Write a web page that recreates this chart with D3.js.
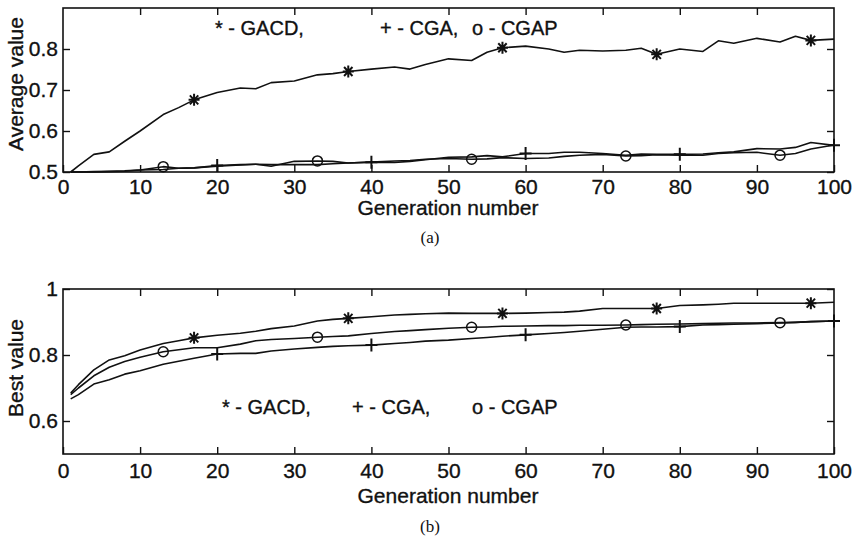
<!DOCTYPE html>
<html>
<head>
<meta charset="utf-8">
<script src="https://cdn.jsdelivr.net/npm/d3@7"></script>
<style>
  body { margin: 0; background: #fff; }
  svg text { font-family: "Liberation Sans", Arial, sans-serif; fill: #111; stroke: #111; stroke-width: 0.35px; }
  svg .cap { font-family: "Liberation Serif", "Times New Roman", serif; stroke: none; }
</style>
</head>
<body>
<script>
var gens = [1, 2, 4, 6, 8, 10, 13, 15, 17, 20, 23, 25, 27, 30, 33, 35, 37, 40, 43, 45, 47,
            50, 53, 55, 57, 60, 63, 65, 67, 70, 73, 75, 77, 80, 83, 85, 87, 90, 93, 95, 97, 100];

// (a) average value
var avgGACD = [0.500, 0.515, 0.543, 0.549, 0.575, 0.600, 0.640, 0.657, 0.676, 0.694, 0.705, 0.703, 0.718, 0.722,
               0.737, 0.740, 0.745, 0.751, 0.756, 0.751, 0.762, 0.776, 0.772, 0.792, 0.803, 0.807, 0.800, 0.792,
               0.797, 0.795, 0.797, 0.802, 0.787, 0.800, 0.794, 0.820, 0.814, 0.826, 0.817, 0.831, 0.821, 0.824];
var avgCGA  = [0.500, 0.500, 0.501, 0.502, 0.503, 0.505, 0.506, 0.509, 0.510, 0.516, 0.518, 0.519, 0.518, 0.518,
               0.518, 0.520, 0.522, 0.524, 0.523, 0.526, 0.530, 0.536, 0.537, 0.540, 0.537, 0.545, 0.545, 0.548,
               0.548, 0.545, 0.541, 0.544, 0.543, 0.543, 0.544, 0.547, 0.549, 0.557, 0.556, 0.560, 0.572, 0.565];
var avgCGAP = [0.500, 0.500, 0.500, 0.501, 0.502, 0.505, 0.513, 0.509, 0.510, 0.514, 0.517, 0.519, 0.514, 0.526,
               0.527, 0.526, 0.522, 0.524, 0.527, 0.528, 0.531, 0.533, 0.531, 0.532, 0.535, 0.533, 0.534, 0.538,
               0.541, 0.543, 0.539, 0.540, 0.542, 0.541, 0.541, 0.545, 0.547, 0.548, 0.541, 0.545, 0.556, 0.566];

// (b) best value
var bestGACD = [0.685, 0.710, 0.755, 0.785, 0.798, 0.815, 0.835, 0.843, 0.852, 0.860, 0.866, 0.872, 0.880, 0.888,
                0.903, 0.908, 0.911, 0.916, 0.921, 0.923, 0.925, 0.927, 0.926, 0.926, 0.926, 0.927, 0.929, 0.930,
                0.933, 0.941, 0.941, 0.941, 0.941, 0.950, 0.952, 0.954, 0.957, 0.957, 0.957, 0.957, 0.957, 0.960];
var bestCGA  = [0.667, 0.680, 0.712, 0.725, 0.742, 0.752, 0.772, 0.781, 0.790, 0.803, 0.805, 0.805, 0.812, 0.818,
                0.823, 0.826, 0.828, 0.830, 0.835, 0.838, 0.842, 0.845, 0.850, 0.853, 0.857, 0.861, 0.865, 0.868,
                0.872, 0.878, 0.884, 0.885, 0.885, 0.886, 0.891, 0.892, 0.893, 0.895, 0.897, 0.899, 0.901, 0.903];
var bestCGAP = [0.680, 0.700, 0.737, 0.763, 0.780, 0.793, 0.810, 0.816, 0.822, 0.822, 0.833, 0.843, 0.847, 0.850,
                0.854, 0.856, 0.858, 0.865, 0.871, 0.874, 0.877, 0.881, 0.884, 0.885, 0.887, 0.888, 0.889, 0.889,
                0.890, 0.890, 0.891, 0.892, 0.893, 0.894, 0.895, 0.896, 0.897, 0.897, 0.898, 0.899, 0.901, 0.903];

// which generations carry a marker
var markGACD = [17, 37, 57, 77, 97];
var markCGA  = [20, 40, 60, 80, 100];
var markCGAP = [13, 33, 53, 73, 93];

var xTicks = [0, 10, 20, 30, 40, 50, 60, 70, 80, 90, 100];
var avgTicks = [0.5, 0.6, 0.7, 0.8];
var avgTickLabels = ["0.5", "0.6", "0.7", "0.8"];
var bestTicks = [0.6, 0.8, 1];
var bestTickLabels = ["0.6", "0.8", "1"];
var legendLabels = ["* - GACD,", "+ - CGA,", "o - CGAP"];

var svg = d3.select("body").append("svg").attr("width", 862).attr("height", 539);

// marker shapes, MATLAB style
var shapes = {
  star:   "M-5.5,0H5.5M0,-6V6M-4.2,-4.5L4.2,4.5M-4.2,4.5L4.2,-4.5",
  plus:   "M-6,0H6M0,-6.5V6.5",
  circle: "M5,0A5,5 0 1,1 -5,0A5,5 0 1,1 5,0Z"
};

function drawPanel(p) {
  var x = d3.scaleLinear().domain([0, 100]).range([63, 834]);
  var y = d3.scaleLinear().domain(p.yDomain).range([p.bottom, p.top]);
  var g = svg.append("g");

  // the curves
  var line = d3.line().x(function(d, i) { return x(gens[i]); }).y(function(d) { return y(d); });
  p.series.forEach(function(s) {
    g.append("path").attr("d", line(s.values))
      .attr("fill", "none").attr("stroke", "#111").attr("stroke-width", 1.6)
      .attr("stroke-linejoin", "round");
    g.selectAll(null).data(s.marks).enter().append("path")
      .attr("d", shapes[s.shape])
      .attr("transform", function(m) { return "translate(" + x(m) + "," + y(s.values[gens.indexOf(m)]) + ")"; })
      .attr("fill", "none").attr("stroke", "#111").attr("stroke-width", s.shape == "circle" ? 1.5 : 2);
  });

  // inward ticks on all four sides
  var bottom = g.append("g").attr("transform", "translate(0," + p.bottom + ")")
    .call(d3.axisBottom(x).tickValues(xTicks).tickSize(-7).tickPadding(p.xPad).tickFormat(d3.format("d")));
  var left = g.append("g").attr("transform", "translate(63,0)")
    .call(d3.axisLeft(y).tickValues(p.yTicks).tickSize(-7).tickPadding(5)
      .tickFormat(function(d, i) { return p.yLabels[i]; }));
  g.append("g").attr("transform", "translate(0," + p.top + ")")
    .call(d3.axisTop(x).tickValues(xTicks.slice(1, -1)).tickSize(-7).tickFormat(""));
  g.append("g").attr("transform", "translate(834,0)")
    .call(d3.axisRight(y).tickValues(p.yTicks).tickSize(-7).tickFormat(""));
  g.selectAll(".domain").remove();
  g.selectAll(".tick line").attr("stroke", "#111").attr("stroke-width", 1.4);
  bottom.selectAll("text").attr("font-size", 21).attr("font-family", null);
  left.selectAll("text").attr("font-size", 21).attr("font-family", null);

  g.append("rect").attr("x", 63).attr("y", p.top).attr("width", 834 - 63).attr("height", p.bottom - p.top)
    .attr("fill", "none").attr("stroke", "#111").attr("stroke-width", 1.6);

  // labels
  g.append("text").attr("x", 448).attr("y", p.xTitleY).attr("text-anchor", "middle")
    .attr("font-size", 21).text("Generation number");
  g.append("text").attr("transform", "translate(23," + p.yTitleMid + ")rotate(-90)")
    .attr("text-anchor", "middle").attr("font-size", 21).text(p.yTitle);
  g.append("text").attr("class", "cap").attr("x", 430).attr("y", p.capY)
    .attr("text-anchor", "middle").attr("font-size", 17).text(p.caption);

  g.selectAll(null).data(legendLabels).enter().append("text")
    .attr("x", function(d, i) { return p.legendX[i]; }).attr("y", p.legendY)
    .attr("font-size", 20).text(function(d) { return d; });
}

drawPanel({
  top: 8, bottom: 172, yDomain: [0.5, 0.9],
  yTicks: avgTicks, yLabels: avgTickLabels, xPad: 7,
  yTitle: "Average value", yTitleMid: 84, xTitleY: 215, caption: "(a)", capY: 243,
  legendX: [215, 380, 472], legendY: 35,
  series: [
    { values: avgGACD, marks: markGACD, shape: "star" },
    { values: avgCGA, marks: markCGA, shape: "plus" },
    { values: avgCGAP, marks: markCGAP, shape: "circle" }
  ]
});

drawPanel({
  top: 289, bottom: 454, yDomain: [0.5, 1],
  yTicks: bestTicks, yLabels: bestTickLabels, xPad: 9,
  yTitle: "Best value", yTitleMid: 368, xTitleY: 503, caption: "(b)", capY: 532,
  legendX: [222, 352, 472], legendY: 414,
  series: [
    { values: bestGACD, marks: markGACD, shape: "star" },
    { values: bestCGA, marks: markCGA, shape: "plus" },
    { values: bestCGAP, marks: markCGAP, shape: "circle" }
  ]
});
</script>
</body>
</html>
